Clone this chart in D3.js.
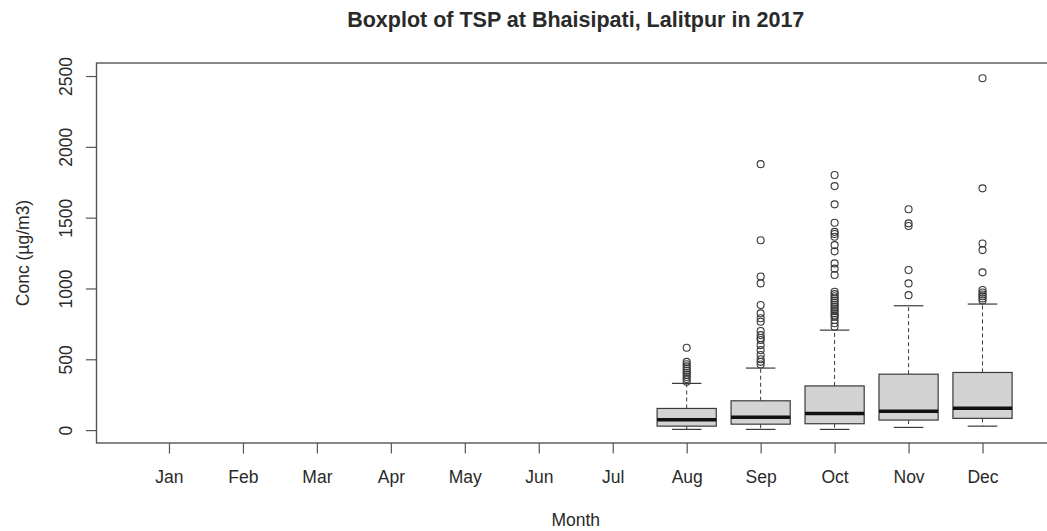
<!DOCTYPE html>
<html>
<head>
<meta charset="utf-8">
<script src="https://cdn.jsdelivr.net/npm/d3@7/dist/d3.min.js"></script>
<style>
  html, body { margin: 0; padding: 0; background: #fff; }
  svg { display: block; }
  text { font-family: "Liberation Sans", Arial, sans-serif; fill: #2a2a2a; }
</style>
</head>
<body>
<svg id="chart" width="1047" height="531"></svg>
<script>
// ---- data ----
const months = ["Jan","Feb","Mar","Apr","May","Jun","Jul","Aug","Sep","Oct","Nov","Dec"];
const yTicks = [0, 500, 1000, 1500, 2000, 2500];
const lowerWhisker = [null,null,null,null,null,null,null, 5, 5, 5, 19, 28];
const q1           = [null,null,null,null,null,null,null, 28, 42, 45, 71, 83];
const median       = [null,null,null,null,null,null,null, 73, 90, 118, 134, 155];
const q3           = [null,null,null,null,null,null,null, 153, 207, 312, 395, 407];
const upperWhisker = [null,null,null,null,null,null,null, 330, 438, 706, 878, 890];
const outAug = [581, 482, 465, 450, 435, 420, 405, 390, 375, 360, 341];
const outSep = [1878, 1340, 1085, 1036, 883, 824, 790, 765, 700, 671, 650, 636, 600, 565, 530, 500, 482, 463];
const outOct = [1801, 1723, 1594, 1464, 1400, 1385, 1365, 1306, 1262, 1177, 1140, 1095,
                977, 960, 945, 930, 915, 900, 885, 870, 855, 840, 825, 810, 800, 777, 755, 730];
const outNov = [1559, 1460, 1441, 1130, 1036, 953];
const outDec = [2484, 1707, 1318, 1271, 1114, 989, 972, 958, 945, 930, 915];
const outliers = [[],[],[],[],[],[],[], outAug, outSep, outOct, outNov, outDec];

const titleText = "Boxplot of TSP at Bhaisipati, Lalitpur in 2017";
const xLabel = "Month";
const yLabel = "Conc (µg/m3)";

// ---- layout ----
const svg = d3.select("#chart");
const L = 96.5, R = 1055, T = 63, B = 443;
const x = d3.scaleLinear().domain([0.02, 12.98]).range([L, R]);
const y = d3.scaleLinear().domain([-91, 2592]).range([B, T]);
const half = x(1.4) - x(1);
const capHalf = half * 0.5;
const lineCol = "#3a3a3a";
const fontFam = "Liberation Sans, Arial, sans-serif";

const data = months.map((m, i) => ({
  m, i: i + 1,
  lo: lowerWhisker[i], q1: q1[i], med: median[i], q3: q3[i], hi: upperWhisker[i],
  out: outliers[i]
})).filter(d => d.med !== null);

const g = svg.append("g");
const box = g.selectAll("g.box").data(data).enter().append("g").attr("class", "box");

// whiskers (dashed)
box.append("line")
  .attr("x1", d => x(d.i)).attr("x2", d => x(d.i))
  .attr("y1", d => y(d.q3)).attr("y2", d => y(d.hi))
  .attr("stroke", lineCol).attr("stroke-width", 1).attr("stroke-dasharray", "4,3");
box.append("line")
  .attr("x1", d => x(d.i)).attr("x2", d => x(d.i))
  .attr("y1", d => y(d.q1)).attr("y2", d => y(d.lo))
  .attr("stroke", lineCol).attr("stroke-width", 1).attr("stroke-dasharray", "4,3");
// staples
["hi", "lo"].forEach(k => {
  box.append("line")
    .attr("x1", d => x(d.i) - capHalf).attr("x2", d => x(d.i) + capHalf)
    .attr("y1", d => y(d[k])).attr("y2", d => y(d[k]))
    .attr("stroke", lineCol).attr("stroke-width", 1.2);
});
// boxes
box.append("rect")
  .attr("x", d => x(d.i) - half).attr("width", 2 * half)
  .attr("y", d => y(d.q3)).attr("height", d => y(d.q1) - y(d.q3))
  .attr("fill", "#d3d3d3").attr("stroke", lineCol).attr("stroke-width", 1.2);
// medians
box.append("line")
  .attr("x1", d => x(d.i) - half).attr("x2", d => x(d.i) + half)
  .attr("y1", d => y(d.med)).attr("y2", d => y(d.med))
  .attr("stroke", "#111").attr("stroke-width", 3.5);
// outliers
box.each(function(d) {
  d3.select(this).selectAll("circle").data(d.out).enter().append("circle")
    .attr("cx", x(d.i)).attr("cy", v => y(v)).attr("r", 3.5)
    .attr("fill", "none").attr("stroke", lineCol).attr("stroke-width", 1.1);
});

// frame
svg.append("rect").attr("x", L).attr("y", T).attr("width", R - L).attr("height", B - T)
  .attr("fill", "none").attr("stroke", "#555").attr("stroke-width", 1.4);

// axes
const xAxis = svg.append("g").attr("transform", `translate(0,${B})`)
  .call(d3.axisBottom(x).tickValues(d3.range(1, 13)).tickFormat(i => months[i - 1]).tickSize(10.6));
xAxis.select(".domain").remove();
xAxis.selectAll("line").attr("stroke", "#555").attr("stroke-width", 1.2);
xAxis.selectAll("text").attr("font-size", 17.5).attr("fill", "#2a2a2a")
  .attr("font-family", fontFam).attr("dy", null).attr("y", 40);

const yAxis = svg.append("g").attr("transform", `translate(${L},0)`)
  .call(d3.axisLeft(y).tickValues(yTicks).tickFormat(d3.format("d")).tickSize(10.6));
yAxis.select(".domain").remove();
yAxis.selectAll("line").attr("stroke", "#555").attr("stroke-width", 1.2);
yAxis.selectAll("text").attr("font-size", 17.5).attr("fill", "#2a2a2a")
  .attr("font-family", fontFam)
  .attr("x", null).attr("dy", null)
  .attr("text-anchor", "middle")
  .attr("transform", "translate(-24.5,0) rotate(-90)");

// titles
svg.append("text").attr("x", (L + R) / 2).attr("y", 27).attr("text-anchor", "middle")
  .attr("font-size", 21.5).attr("font-weight", "bold").text(titleText);
svg.append("text").attr("x", (L + R) / 2).attr("y", 526).attr("text-anchor", "middle")
  .attr("font-size", 17.5).text(xLabel);
svg.append("text").attr("transform", `translate(29,${(T + B) / 2}) rotate(-90)`)
  .attr("text-anchor", "middle").attr("font-size", 17.5).text(yLabel);
</script>
</body>
</html>
